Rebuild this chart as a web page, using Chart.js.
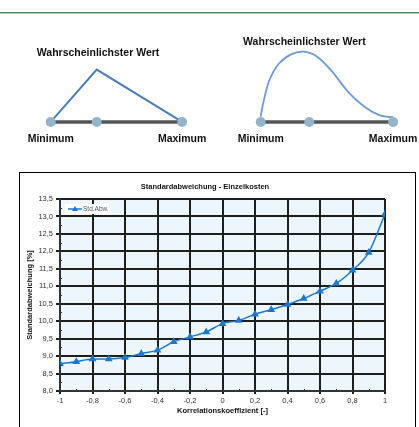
<!DOCTYPE html>
<html lang="de">
<head>
<meta charset="UTF-8">
<title>Standardabweichung - Einzelkosten</title>
<script src="https://cdn.jsdelivr.net/npm/chart.js"></script>
<style>
  body, html { margin: 0; padding: 0; width: 419px; height: 427px; overflow: hidden; background: #fff; font-family: "Liberation Sans", Arial, sans-serif; }
  .rule1 { position: absolute; left: 0; top: 12px; width: 419px; height: 1px; background: #4a8a5a; }
  .rule2 { position: absolute; left: 0; top: 13px; width: 419px; height: 1px; background: #a9cfb3; }
  #leftC { position: absolute; left: 0; top: 14px; }
  #rightC { position: absolute; left: 210px; top: 14px; }
  .box { position: absolute; left: 19px; top: 172px; width: 395px; height: 270px; border: 1px solid #000; }
  #mainC { position: absolute; left: 20px; top: 173px; }
</style>
</head>
<body>
<div class="rule1"></div><div class="rule2"></div>
<canvas id="leftC" width="210" height="156"></canvas>
<canvas id="rightC" width="209" height="156"></canvas>
<div class="box"></div>
<canvas id="mainC" width="395" height="254"></canvas>

<script>
// --- top diagrams (normalised: minimum = 0, maximum = 1) ---
const topLabels = ["Wahrscheinlichster Wert", "Minimum", "Maximum"];
const triMode = 0.35;
const triPeak = 1.0;
const bellMode = 0.367;
const bellX = [0, 0.014, 0.065, 0.137, 0.23, 0.324, 0.424, 0.54, 0.662, 0.784, 0.9, 1.0];
const bellY = [0.1, 0.3, 0.79, 1.11, 1.29, 1.34, 1.25, 0.96, 0.57, 0.29, 0.125, 0.09];

// --- main chart ---
const korrelation = [-1, -0.9, -0.8, -0.7, -0.6, -0.5, -0.4, -0.3, -0.2, -0.1, 0, 0.1, 0.2, 0.3, 0.4, 0.5, 0.6, 0.7, 0.8, 0.9, 1];
const stdAbw = [8.78, 8.84, 8.92, 8.92, 8.96, 9.07, 9.17, 9.41, 9.55, 9.69, 9.93, 10.02, 10.20, 10.33, 10.48, 10.65, 10.86, 11.08, 11.46, 11.97, 13.07];

const FONT = '"Liberation Sans", Arial, sans-serif';

// labels for the small diagrams, placed from the scales
const diagramLabels = {
  id: 'diagramLabels',
  afterDatasetsDraw(chart, args, opts) {
    const { ctx, scales: { x, y } } = chart;
    ctx.save();
    ctx.font = 'bold 10.5px ' + FONT;
    ctx.fillStyle = '#111';
    ctx.textAlign = 'center';
    ctx.textBaseline = 'middle';
    ctx.fillText(topLabels[0], x.getPixelForValue(opts.modeX), y.getPixelForValue(opts.peakY) - opts.gap);
    ctx.fillText(topLabels[1], x.getPixelForValue(0), y.getPixelForValue(0) + 17);
    ctx.fillText(topLabels[2], x.getPixelForValue(1), y.getPixelForValue(0) + 17);
    ctx.restore();
  }
};

function topOptions(xmin, xmax, labelOpts) {
  return {
    responsive: false,
    animation: false,
    layout: { padding: 0 },
    scales: {
      x: { type: 'linear', min: xmin, max: xmax, display: false },
      y: { type: 'linear', min: -0.821, max: 1.964, display: false }
    },
    plugins: { legend: { display: false }, tooltip: { enabled: false }, diagramLabels: labelOpts }
  };
}

function baseSets(mode) {
  return [
    { data: [{ x: 0, y: 0 }, { x: mode, y: 0 }, { x: 1, y: 0 }], showLine: false,
      pointRadius: 5, pointBackgroundColor: '#93b4c9', pointBorderWidth: 0, order: 0 },
    { data: [{ x: 0, y: 0 }, { x: 1, y: 0 }], showLine: true, borderColor: '#555',
      borderWidth: 3.5, pointRadius: 0, order: 2 }
  ];
}

new Chart(document.getElementById('leftC'), {
  type: 'scatter',
  data: {
    datasets: [
      ...baseSets(triMode),
      { data: [{ x: 0, y: 0 }, { x: triMode, y: triPeak }, { x: 1, y: 0 }], showLine: true,
        borderColor: '#4a7dbb', borderWidth: 2, pointRadius: 0, order: 1 }
    ]
  },
  options: topOptions(-0.348, 1.174, { modeX: 0.36, peakY: triPeak, gap: 16 }),
  plugins: [diagramLabels]
});

new Chart(document.getElementById('rightC'), {
  type: 'scatter',
  data: {
    datasets: [
      ...baseSets(bellMode),
      { data: bellX.map((v, i) => ({ x: v, y: bellY[i] })), showLine: true,
        borderColor: '#6b9bd8', borderWidth: 1.8, pointRadius: 0, tension: 0.35, order: 1 }
    ]
  },
  options: topOptions(-0.345, 1.158, { modeX: 0.33, peakY: 1.34, gap: 10 }),
  plugins: [diagramLabels]
});

// plot background, minor ticks and legend box
const plotExtras = {
  id: 'plotExtras',
  beforeDraw(chart) {
    const { ctx, chartArea: a } = chart;
    ctx.save();
    ctx.fillStyle = '#eef6fd';
    ctx.fillRect(a.left, a.top, a.right - a.left, a.bottom - a.top);
    ctx.restore();
  },
  afterDatasetsDraw(chart) {
    const { ctx, chartArea: a, scales: { x, y } } = chart;
    ctx.save();
    ctx.strokeStyle = '#333';
    ctx.lineWidth = 1;
    for (let v = -0.9; v < 1; v += 0.2) {
      const px = Math.round(x.getPixelForValue(v)) + 0.5;
      ctx.beginPath(); ctx.moveTo(px, a.bottom); ctx.lineTo(px, a.bottom - 2); ctx.stroke();
    }
    for (let v = 8.25; v < 13.5; v += 0.5) {
      const py = Math.round(y.getPixelForValue(v)) + 0.5;
      ctx.beginPath(); ctx.moveTo(a.left, py); ctx.lineTo(a.left + 2, py); ctx.stroke();
    }
    // legend
    const ds = chart.data.datasets[0];
    const lx = a.left + 5, ly = a.top + 5;
    ctx.fillStyle = '#fff';
    ctx.fillRect(lx, ly, 44, 10);
    const my = ly + 5;
    ctx.strokeStyle = ds.borderColor;
    ctx.lineWidth = 1.5;
    ctx.beginPath(); ctx.moveTo(lx + 3, my); ctx.lineTo(lx + 17, my); ctx.stroke();
    ctx.fillStyle = ds.borderColor;
    ctx.beginPath(); ctx.moveTo(lx + 10, my - 3); ctx.lineTo(lx + 13, my + 2); ctx.lineTo(lx + 7, my + 2); ctx.closePath(); ctx.fill();
    ctx.fillStyle = '#555';
    ctx.font = '6.5px ' + FONT;
    ctx.textBaseline = 'middle';
    ctx.fillText(ds.label, lx + 18, my);
    ctx.restore();
  }
};

const comma = v => String(v).replace('.', ',');

new Chart(document.getElementById('mainC'), {
  type: 'line',
  data: {
    datasets: [{
      label: 'Std.Abw.',
      data: korrelation.map((k, i) => ({ x: k, y: stdAbw[i] })),
      borderColor: '#1a78d0',
      backgroundColor: '#1a78d0',
      borderWidth: 1.5,
      pointStyle: 'triangle',
      pointRadius: 3,
      cubicInterpolationMode: 'monotone'
    }]
  },
  options: {
    responsive: false,
    animation: false,
    layout: { padding: { left: 5, right: 30, top: 0, bottom: 12 } },
    scales: {
      x: {
        type: 'linear', min: -1, max: 1,
        afterFit: s => { s.height = 24; },
        grid: { color: '#1e1e1e', lineWidth: 2, tickLength: 3 },
        border: { color: '#333', width: 2 },
        ticks: { stepSize: 0.2, padding: 2, color: '#333', font: { family: FONT, size: 7.5 },
                 maxRotation: 0, callback: v => comma(Number(v.toFixed(1))) },
        title: { display: true, text: 'Korrelationskoeffizient [-]', color: '#111',
                 font: { family: FONT, size: 7.5, weight: 'bold' }, padding: { top: 2, bottom: 0 } }
      },
      y: {
        type: 'linear', min: 8, max: 13.5,
        afterFit: s => { s.width = 35; },
        grid: { color: '#1e1e1e', lineWidth: 2, tickLength: 4 },
        border: { color: '#333', width: 2 },
        ticks: { stepSize: 0.5, padding: 3, color: '#333', font: { family: FONT, size: 7.5 },
                 callback: v => comma(v.toFixed(1)) },
        title: { display: true, text: 'Standardabweichung [%]', color: '#111',
                 font: { family: FONT, size: 7.5, weight: 'bold' }, padding: 0 }
      }
    },
    plugins: {
      legend: { display: false },
      tooltip: { enabled: false },
      title: { display: true, text: 'Standardabweichung - Einzelkosten', color: '#111',
               font: { family: FONT, size: 7.5, weight: 'bold' }, padding: { top: 9, bottom: 8 } }
    }
  },
  plugins: [plotExtras]
});
</script>
</body>
</html>
